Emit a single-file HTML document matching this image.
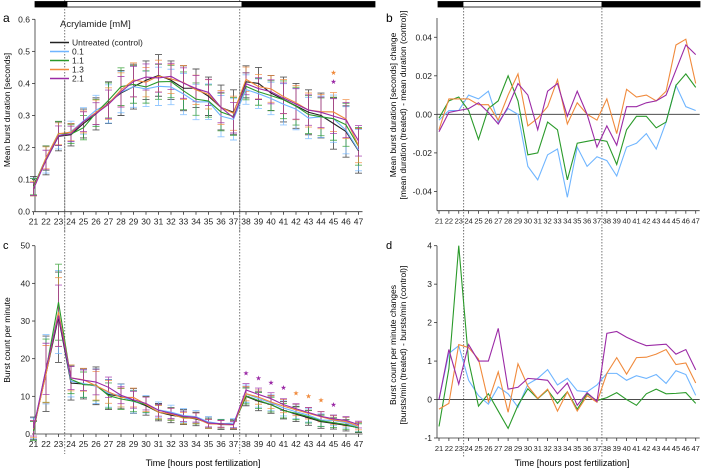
<!DOCTYPE html>
<html><head><meta charset="utf-8"><style>
body{margin:0;background:#fff}
svg{display:block;font-family:"Liberation Sans","DejaVu Sans",sans-serif}
</style></head><body>
<svg id="fig" width="708" height="471" viewBox="0 0 708 471" xmlns="http://www.w3.org/2000/svg"></svg>
<script>
const hours=[21,22,23,24,25,26,27,28,29,30,31,32,33,34,35,36,37,38,39,40,41,42,43,44,45,46,47];
const seriesNames=["Untreated (control)","0.1","1.1","1.3","2.1"];
const seriesColors=["#222","#6fb5ff","#2a9a2a","#f08a3c","#9b2aa6"];
const durCtrl=[0.08,0.16,0.235,0.24,0.275,0.305,0.34,0.37,0.39,0.41,0.425,0.41,0.385,0.385,0.36,0.325,0.31,0.405,0.40,0.37,0.35,0.33,0.31,0.30,0.275,0.25,0.19];
const dur01=[0.077,0.162,0.237,0.25,0.283,0.317,0.336,0.373,0.39,0.383,0.391,0.389,0.367,0.342,0.343,0.298,0.288,0.381,0.368,0.353,0.335,0.32,0.292,0.296,0.29,0.254,0.192];
const dur11=[0.078,0.167,0.244,0.242,0.262,0.308,0.347,0.39,0.397,0.389,0.405,0.406,0.377,0.351,0.345,0.311,0.297,0.391,0.374,0.362,0.349,0.329,0.303,0.296,0.29,0.271,0.204];
const dur13=[0.072,0.168,0.243,0.248,0.28,0.31,0.337,0.38,0.411,0.404,0.423,0.414,0.403,0.38,0.366,0.325,0.307,0.413,0.39,0.383,0.359,0.34,0.317,0.312,0.311,0.289,0.206];
const dur21=[0.071,0.161,0.237,0.243,0.281,0.306,0.335,0.374,0.406,0.42,0.417,0.422,0.401,0.384,0.372,0.325,0.293,0.399,0.384,0.374,0.354,0.336,0.317,0.31,0.298,0.286,0.221];
const durErr=[0.03,0.045,0.045,0.035,0.045,0.05,0.065,0.07,0.07,0.06,0.065,0.06,0.07,0.06,0.06,0.07,0.07,0.05,0.05,0.055,0.07,0.07,0.07,0.07,0.08,0.08,0.07];
const dd01=[-0.003,0.002,0.002,0.010,0.008,0.012,-0.004,0.003,0,-0.027,-0.034,-0.021,-0.018,-0.043,-0.017,-0.027,-0.022,-0.024,-0.032,-0.017,-0.015,-0.010,-0.018,-0.004,0.015,0.004,0.002];
const dd11=[-0.002,0.007,0.009,0.002,-0.013,0.003,0.007,0.020,0.007,-0.021,-0.020,-0.004,-0.008,-0.034,-0.015,-0.014,-0.013,-0.014,-0.026,-0.008,-0.001,-0.001,-0.007,-0.004,0.015,0.021,0.014];
const dd13=[-0.008,0.008,0.008,0.008,0.005,0.005,-0.003,0.010,0.021,-0.006,-0.002,0.004,0.018,-0.005,0.006,0,-0.003,0.008,-0.010,0.013,0.009,0.010,0.007,0.012,0.036,0.039,0.016];
const dd21=[-0.009,0.001,0.002,0.003,0.006,0.001,-0.005,0.004,0.016,0.010,-0.008,0.012,0.016,-0.001,0.012,0,-0.017,-0.006,-0.016,0.004,0.004,0.006,0.007,0.010,0.023,0.036,0.031];
const cntCtrl=[1.5,16,31,13.5,13.3,12.8,10.5,10,8.8,7.5,5.8,5,4.5,4,3,2.5,2.5,10,8.7,7.8,6.3,5.3,4.3,3.3,2.8,2.3,1.7];
const cnt01=[1.5,17.2,32.4,14,13.4,12.7,10.8,10.2,8.6,7.9,6.4,5.8,4.9,4.6,3.2,2.7,2.9,10.7,9.4,8.3,6.9,5.9,5,3.7,3.6,3,1.8];
const cnt11=[0.8,16.8,35,14.5,13.1,13,10.2,9.3,8.7,7.8,5.8,5.3,4.4,4.2,2.8,2.7,2.5,10.1,8.9,7.8,6.2,5.5,4.6,3.5,3,2.5,1.6];
const cnt13=[1.3,15.9,32.4,14.9,14.4,12.8,11.2,9.7,9.7,7.9,5.8,5.3,4.2,4.2,2.7,2.6,2.4,10.7,9.8,8.5,7.4,6.4,5.5,4.6,3.7,3.3,2.1];
const cnt21=[1.5,17.3,31.4,14.9,14.3,13.8,12.4,10.3,9.1,8.1,6.3,5.5,4.7,4.4,2.9,2.7,2.5,11.7,10.5,9.4,7.8,6.7,5.7,4.7,4,3.6,2.5];
const cntErr=[3,10,12,4.5,4,5,4,3.3,3.3,2.5,2.3,2,2,1.8,1.5,1.3,1.3,2.5,2.5,2.3,2.3,2,2,1.8,1.5,1.5,1.3];
const cd01=[0,1.2,1.4,0.5,0.1,-0.12,0.33,0.15,-0.2,0.4,0.55,0.78,0.38,0.55,0.23,0.2,0.38,0.68,0.68,0.5,0.62,0.55,0.65,0.42,0.75,0.65,0.11];
const cd11=[-0.7,0.8,4.0,1.0,-0.17,0.15,-0.3,-0.75,-0.15,0.28,0.02,0.25,-0.1,0.2,-0.25,0.15,-0.03,0.05,0.18,0,-0.15,0.15,0.27,0.15,0.16,0.18,-0.1];
const cd13=[-0.25,-0.1,1.43,1.35,1.05,-0.05,0.72,-0.33,0.93,0.35,0.03,0.27,-0.3,0.2,-0.3,0.1,-0.07,0.68,1.09,0.66,1.09,1.1,1.18,1.3,0.91,0.95,0.43];
const cd21=[0,1.3,0.4,1.43,1.0,1.0,1.85,0.27,0.32,0.55,0.53,0.5,0.15,0.43,-0.15,0.18,-0.05,1.72,1.77,1.62,1.5,1.4,1.42,1.44,1.18,1.3,0.77];
const durTicks=[0,0.1,0.2,0.3,0.4,0.5,0.6];
const ddTicks=[-0.04,-0.02,0,0.02,0.04];
const cntTicks=[0,10,20,30,40,50];
const cdTicks=[-1,0,1,2,3,4];
const starsA=[{h:45,v:0.435,c:3},{h:45,v:0.408,c:4}];
const starsC=[{h:38,v:16.3,c:4},{h:39,v:15,c:4},{h:40,v:13.8,c:4},{h:41,v:12.5,c:4},{h:42,v:11,c:3},{h:43,v:10.2,c:3},{h:44,v:9.2,c:3},{h:45,v:8,c:4}];

const NS="http://www.w3.org/2000/svg";
const svg=document.getElementById('fig');
function mk(tag,at,parent,txt){const e=document.createElementNS(NS,tag);for(const k in at)e.setAttribute(k,at[k]);if(txt!=null)e.textContent=txt;(parent||svg).appendChild(e);return e;}
function lin(d0,d1,r0,r1){return v=>r0+(v-d0)*(r1-r0)/(d1-d0);}

function panel(o){
  const g=mk('g',{});
  
  
  const x=lin(21,47,o.x0,o.x1), y=lin(o.ymin,o.ymax,o.yb,o.yt);
  const ax=mk('line',{x1:o.ax,x2:o.ax,y1:o.yt,y2:o.yb,stroke:'#333','stroke-width':0.8},g);
  
  o.yticks.forEach(t=>{
    mk('line',{x1:o.ax-3,x2:o.ax,y1:y(t),y2:y(t),stroke:'#333','stroke-width':0.8},g);
    const tl=mk('text',{x:o.ax-5,y:y(t)+3,'font-size':8.5,'text-anchor':'end',fill:'#222'},g,o.fmt(t));
    
  });
  const bx=mk('line',{x1:o.ax,x2:o.x1+4,y1:o.yb,y2:o.yb,stroke:'#333','stroke-width':0.8},g);
  
  hours.forEach(h=>{
    mk('line',{x1:x(h),x2:x(h),y1:o.yb,y2:o.yb+3,stroke:'#333','stroke-width':0.8},g);
    const tl=mk('text',{x:x(h),y:o.yb+13,'font-size':o.tfs,'text-anchor':'middle',fill:'#222'},g,h);
    
  });
  if(o.zero){const z=mk('line',{x1:o.ax,x2:o.x1+4,y1:y(0),y2:y(0),stroke:'#333','stroke-width':0.9},g);}
  [23.5,37.5].forEach(h=>{const d=mk('line',{x1:x(h),x2:x(h),y1:o.dt,y2:o.yb+20,stroke:'#555','stroke-width':0.8,'stroke-dasharray':'1.5,1.5'},g);});
  if(o.err){o.series.forEach((s,si)=>{s.forEach((v,i)=>{
    const e=o.err[i]*(1-0.08*si), cx=x(hours[i]);
    const eb=mk('path',{d:`M${cx},${y(v-e)}V${y(v+e)}M${cx-3.5},${y(v-e)}h7M${cx-3.5},${y(v+e)}h7`,stroke:seriesColors[si],'stroke-width':0.9,fill:'none',opacity:0.75},g);
    
  });});}
  o.series.forEach((s,si)=>{
    if(s==null)return;
    const p=mk('polyline',{points:s.map((v,i)=>x(hours[i])+','+y(v)).join(' '),fill:'none',stroke:seriesColors[si],'stroke-width':1.1},g);
    
    
  });
  (o.stars||[]).forEach(s=>{const t=mk('text',{x:x(s.h),y:y(s.v)+3,'font-size':7,'text-anchor':'middle',fill:seriesColors[s.c]},g,'★');});
  return x;
}
panel({name:'panel-a',x0:33.5,x1:358.5,ax:35,ymin:0,ymax:0.6,yb:211.7,yt:19.3,dt:80,tfs:8.5,yticks:durTicks,fmt:t=>t.toFixed(1),series:[durCtrl,dur01,dur11,dur13,dur21],err:durErr,stars:starsA});
panel({name:'panel-c',x0:33.5,x1:358.5,ax:35,ymin:0,ymax:50,yb:434,yt:245.7,dt:0,tfs:8.5,yticks:cntTicks,fmt:t=>t,series:[cntCtrl,cnt01,cnt11,cnt13,cnt21],err:cntErr,stars:starsC});
panel({name:'panel-b',x0:439,x1:695.7,ax:437,ymin:-0.05,ymax:0.05,yb:210.7,yt:18,dt:8,tfs:7.5,zero:true,yticks:ddTicks,fmt:t=>t.toFixed(2),series:[null,dd01,dd11,dd13,dd21]});
panel({name:'panel-d',x0:439,x1:695.7,ax:437,ymin:-1,ymax:4,yb:438,yt:245.7,dt:230,tfs:7.5,zero:true,yticks:cdTicks,fmt:t=>t,series:[null,cd01,cd11,cd13,cd21]});

function bar(x,w,fill,name){const r=mk('rect',{x:x,y:1.5,width:w,height:5.5,fill:fill,stroke:'#000','stroke-width':0.8});}
bar(35,32,'#000','dark-period-bar');bar(67,175,'#fff','light-period-bar');bar(242,133,'#000','dark-period-bar');
bar(438,25,'#000','dark-period-bar');bar(463,139,'#fff','light-period-bar');bar(602,98,'#000','dark-period-bar');

function txt(a,s,name,rot){const t=mk('text',a,svg,s);if(rot)t.setAttribute('transform',rot);return t;}
txt({x:3,y:22,'font-size':12},'a','panel-label-a');
txt({x:386,y:22,'font-size':12},'b','panel-label-b');
txt({x:3,y:249,'font-size':11},'c','panel-label-c');
txt({x:386,y:249,'font-size':11},'d','panel-label-d');
txt({x:0,y:0,'font-size':8.5,'text-anchor':'middle'},'Mean burst duration [seconds]','y-axis-title-a','translate(10,110) rotate(-90)');
txt({x:0,y:0,'font-size':8.5,'text-anchor':'middle'},'Burst count per minute','y-axis-title-c','translate(10,340) rotate(-90)');
txt({x:0,y:0,'font-size':8.5,'text-anchor':'middle'},'Mean burst duration [seconds] change','y-axis-title-b-line1','translate(396,105) rotate(-90)');
txt({x:0,y:0,'font-size':8.5,'text-anchor':'middle'},'[mean duration (treated) - mean duration (control)]','y-axis-title-b-line2','translate(406,105) rotate(-90)');
txt({x:0,y:0,'font-size':8.5,'text-anchor':'middle'},'Burst count per minute changes','y-axis-title-d-line1','translate(396,345) rotate(-90)');
txt({x:0,y:0,'font-size':8.5,'text-anchor':'middle'},'[bursts/min (treated) - bursts/min (control)]','y-axis-title-d-line2','translate(406,345) rotate(-90)');
txt({x:203,y:466,'font-size':9,'text-anchor':'middle'},'Time [hours post fertilization]','x-axis-title-c');
txt({x:572,y:466,'font-size':9,'text-anchor':'middle'},'Time [hours post fertilization]','x-axis-title-d');
const lg=mk('g',{});
const lt=mk('text',{x:60,y:27,'font-size':9.5,fill:'#222'},lg,'Acrylamide [mM]');
seriesNames.forEach((n,i)=>{const yy=42.5+i*9;
  const l=mk('line',{x1:50,x2:69,y1:yy,y2:yy,stroke:seriesColors[i],'stroke-width':1.4},lg);
  const t=mk('text',{x:72,y:yy+3,'font-size':8.5,fill:'#222'},lg,n);});
</script>
</body></html>
